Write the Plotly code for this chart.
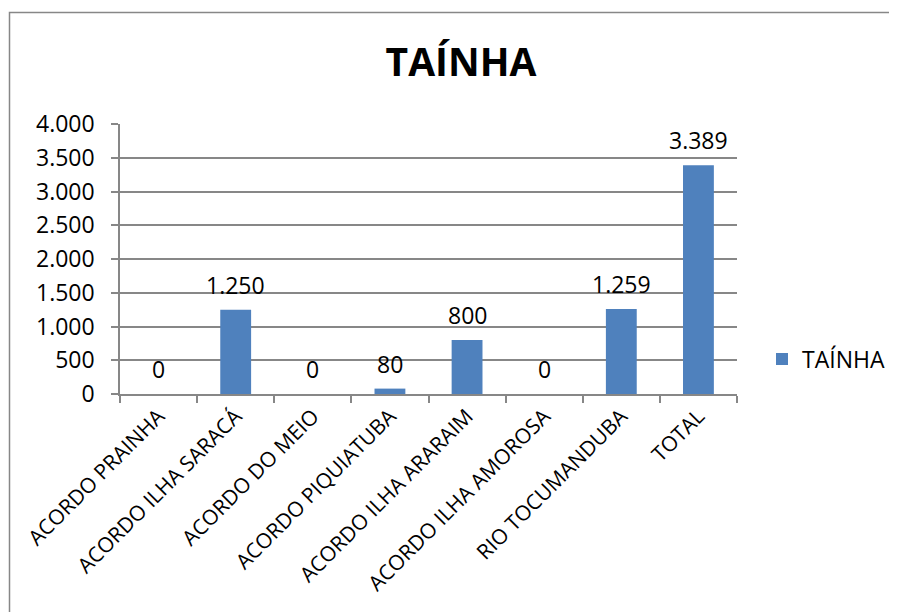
import plotly.graph_objects as go

categories = ["ACORDO PRAINHA", "ACORDO ILHA SARACÁ", "ACORDO DO MEIO", "ACORDO PIQUIATUBA",
              "ACORDO ILHA ARARAIM", "ACORDO ILHA AMOROSA", "RIO TOCUMANDUBA", "TOTAL"]
values = [0, 1250, 0, 80, 800, 0, 1259, 3389]
series_name = "TAÍNHA"
title_text = "TAÍNHA"
y_ticks = [0, 500, 1000, 1500, 2000, 2500, 3000, 3500, 4000]

FONT = "Open Sans"
GRID = "#878787"
BAR = "#4F81BD"

def fmt(v):
    return f"{v:,}".replace(",", ".")

W, H = 897, 612
O = 8  # page body margin offset

# target pixel positions in the screenshot
PL, PR, PT, PB = 120, 737, 124, 394
L, T = PL - O, PT - O
R = W - (PR - O)
B = H - (PB - O)
pw, ph = W - L - R, H - T - B

def px(x):
    return (x - PL) / pw

def py(y):
    return (PB - y) / ph

fig = go.Figure()
fig.add_trace(go.Bar(x=categories, y=values, name=series_name, marker_color=BAR,
                     marker_line_width=0, showlegend=True))

for c, v in zip(categories, values):
    fig.add_annotation(x=c, y=v, text=fmt(v), showarrow=False, yshift=25,
                       font=dict(family=FONT, size=23, color="#000000"))

# chart border (top and left visible, rest cropped)
fig.add_shape(type="rect", xref="paper", yref="paper",
              x0=px(9.5), x1=px(W + 30), y0=py(H + 30), y1=py(12.5),
              line=dict(color=GRID, width=1.5), layer="below")

fig.update_layout(
    width=W, height=H,
    margin=dict(l=L, r=R, t=T, b=B, autoexpand=False),
    paper_bgcolor="white", plot_bgcolor="white",
    separators=",.",
    bargap=0.6,
    font=dict(family=FONT, size=20, color="#000000"),
    title=dict(text="<b>" + title_text + "</b>", x=px(461), xref="paper", xanchor="center",
               y=1 - (62 - O) / H, yref="container", yanchor="middle",
               font=dict(family=FONT, size=39, color="#000000")),
    legend=dict(x=px(762), y=py(359), xanchor="left", yanchor="middle",
                font=dict(family=FONT, size=23), bgcolor="rgba(0,0,0,0)"),
    xaxis=dict(tickangle=-45, showline=True, linecolor=GRID, linewidth=1.5,
               ticks="outside", tickson="boundaries", ticklen=7, tickcolor=GRID, tickwidth=1.5,
               showgrid=False, tickfont=dict(family=FONT, size=21)),
    yaxis=dict(range=[0, 4000], tickvals=y_ticks, tickformat=",d", showline=True,
               linecolor=GRID, linewidth=1.5, ticks="outside", ticklen=7, tickcolor=GRID,
               tickwidth=1.5, showgrid=True, gridcolor=GRID, gridwidth=1.5,
               ticklabelstandoff=12,
               zeroline=False, tickfont=dict(family=FONT, size=23)),
)

fig.write_html("out.html")
